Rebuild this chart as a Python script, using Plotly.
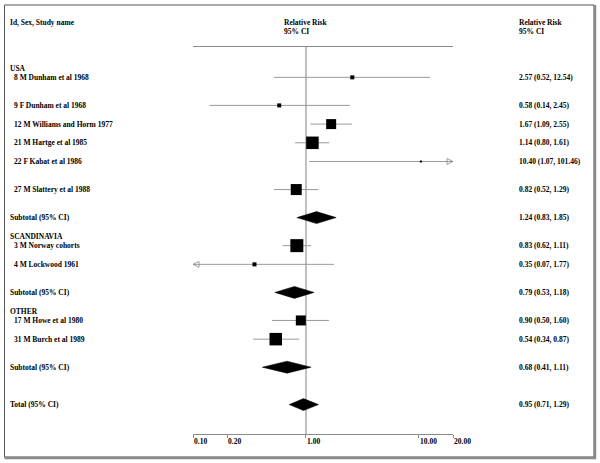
import math
import plotly.graph_objects as go

# ---------------- data ----------------
groups = ["USA", "SCANDINAVIA", "OTHER"]
study_labels = [
    "8 M Dunham et al 1968",
    "9 F Dunham et al 1968",
    "12 M Williams and Horm 1977",
    "21 M Hartge et al 1985",
    "22 F Kabat et al 1986",
    "27 M Slattery et al 1988",
    "3 M Norway cohorts",
    "4 M Lockwood 1961",
    "17 M Howe et al 1980",
    "31 M Burch et al 1989",
]
study_group = ["USA", "USA", "USA", "USA", "USA", "USA",
               "SCANDINAVIA", "SCANDINAVIA", "OTHER", "OTHER"]
rr = [2.57, 0.58, 1.67, 1.14, 10.40, 0.82, 0.83, 0.35, 0.90, 0.54]
lo = [0.52, 0.14, 1.09, 0.80, 1.07, 0.52, 0.62, 0.07, 0.50, 0.34]
hi = [12.54, 2.45, 2.55, 1.61, 101.46, 1.29, 1.11, 1.77, 1.60, 0.87]
weight_px = [4, 4, 10, 12.5, 2, 11, 13, 4, 10, 12.5]

sub_rr = [1.24, 0.79, 0.68]
sub_lo = [0.83, 0.53, 0.41]
sub_hi = [1.85, 1.18, 1.11]

total_rr, total_lo, total_hi = 0.95, 0.71, 1.29

tick_vals = [0.10, 0.20, 1.00, 10.00, 20.00]
tick_text = ["0.10", "0.20", "1.00", "10.00", "20.00"]

# ---------------- layout (row positions in line units) ----------------
group_row = [0, 18, 26]
study_row = [1, 4, 6, 8, 10, 13, 19, 21, 27, 29]
sub_row = [16, 24, 32]
total_row = 36

XMIN, XMAX = 0.1, 20.0
W, H = 600, 463
ROW0_PX, ROW_PX = 68.0, 9.35
TOP_PX, BOT_PX = 47.0, 434.0
X0_PX, X1_PX = 193.0, 453.0


def unit(px):
    return (px - ROW0_PX) / ROW_PX


def py(px):
    return 1 - px / H


FONT = dict(family="Liberation Serif, Times New Roman, serif", size=7.5, color="black")
DH = 0.64  # diamond half height in row units
LINE_GREY = "#9a9a9a"

fig = go.Figure()

# vertical line at 1
fig.add_trace(go.Scatter(x=[1, 1], y=[unit(TOP_PX), unit(BOT_PX)], mode="lines",
                         line=dict(color="#808080", width=1), hoverinfo="skip"))

# CI lines
cx, cy = [], []
for l, h_, r in zip(lo, hi, study_row):
    cx += [l, h_, None]
    cy += [r, r, None]
fig.add_trace(go.Scatter(x=cx, y=cy, mode="lines", line=dict(color=LINE_GREY, width=1),
                         hoverinfo="skip"))

# arrows for truncated CIs
ax_r, ay_r, ax_l, ay_l = [], [], [], []
for l, h_, r in zip(lo, hi, study_row):
    if h_ > XMAX:
        ax_r.append(XMAX)
        ay_r.append(r)
    if l < XMIN:
        ax_l.append(XMIN)
        ay_l.append(r)
fig.add_trace(go.Scatter(x=ax_r, y=ay_r, mode="markers", cliponaxis=False,
                         marker=dict(symbol="arrow-right-open", size=6, opacity=1,
                                     color="#8a8a8a", line=dict(width=0.8, color="#8a8a8a")),
                         hoverinfo="skip"))
fig.add_trace(go.Scatter(x=ax_l, y=ay_l, mode="markers", cliponaxis=False,
                         marker=dict(symbol="arrow-left-open", size=6, opacity=1,
                                     color="#8a8a8a", line=dict(width=0.8, color="#8a8a8a")),
                         hoverinfo="skip"))

# point estimates (squares)
fig.add_trace(go.Scatter(x=rr, y=study_row, mode="markers",
                         marker=dict(symbol="square", size=weight_px, color="black",
                                     opacity=1, line=dict(width=0)),
                         hoverinfo="skip"))

# diamonds
for r_, l_, h_, row in list(zip(sub_rr, sub_lo, sub_hi, sub_row)) + [(total_rr, total_lo, total_hi, total_row)]:
    fig.add_trace(go.Scatter(x=[l_, r_, h_, r_, l_], y=[row, row - DH, row, row + DH, row],
                             mode="lines", fill="toself", fillcolor="black",
                             line=dict(color="black", width=0.5), hoverinfo="skip"))

ann = []


def txt(x, y, s, xref="paper", yref="y", anchor="left"):
    ann.append(dict(x=x, y=y, xref=xref, yref=yref, text="<b>%s</b>" % s, showarrow=False,
                    xanchor=anchor, yanchor="middle", font=FONT))


# headers
txt(8 / W, py(22), "Id, Sex, Study name", yref="paper")
txt(282 / W, py(22), "Relative Risk", yref="paper")
txt(282 / W, py(31.5), "95% CI", yref="paper")
txt(517 / W, py(22), "Relative Risk", yref="paper")
txt(517 / W, py(31.5), "95% CI", yref="paper")

for g, row in zip(groups, group_row):
    txt(8 / W, row, g)
for s, row, r_, l_, h_ in zip(study_labels, study_row, rr, lo, hi):
    txt(12 / W, row, s)
    txt(517 / W, row, "%.2f (%.2f, %.2f)" % (r_, l_, h_))
for row, r_, l_, h_ in zip(sub_row, sub_rr, sub_lo, sub_hi):
    txt(8 / W, row, "Subtotal (95% CI)")
    txt(517 / W, row, "%.2f (%.2f, %.2f)" % (r_, l_, h_))
txt(8 / W, total_row, "Total (95% CI)")
txt(517 / W, total_row, "%.2f (%.2f, %.2f)" % (total_rr, total_lo, total_hi))

# tick labels (left aligned at tick)
for v, t in zip(tick_vals, tick_text):
    ann.append(dict(x=math.log10(v), y=py(441), xref="x", yref="paper", text="<b>%s</b>" % t,
                    showarrow=False, xanchor="left", yanchor="middle", xshift=-1, font=FONT))

shapes = [
    dict(type="rect", xref="paper", yref="paper", x0=4.5 / W, x1=594 / W,
         y0=py(457), y1=py(5), line=dict(color="#555555", width=1)),
    dict(type="line", xref="paper", yref="paper", x0=595 / W, x1=595 / W,
         y0=py(458.5), y1=py(5), line=dict(color="#8a8a8a", width=2.5)),
    dict(type="line", xref="paper", yref="paper", x0=4.5 / W, x1=596 / W,
         y0=py(458), y1=py(458), line=dict(color="#8a8a8a", width=2.5)),
]

fig.update_layout(
    width=W, height=H, margin=dict(l=0, r=0, t=0, b=0),
    paper_bgcolor="white", plot_bgcolor="white", showlegend=False,
    annotations=ann, shapes=shapes,
    xaxis=dict(type="log", range=[math.log10(XMIN), math.log10(XMAX)],
               domain=[X0_PX / W, X1_PX / W], showgrid=False, zeroline=False,
               showline=True, linecolor="#8a8a8a", linewidth=1, mirror=True,
               ticks="outside", ticklen=3, tickcolor="#8a8a8a", tickvals=tick_vals,
               showticklabels=False, fixedrange=True),
    yaxis=dict(range=[unit(BOT_PX), unit(TOP_PX)], domain=[py(BOT_PX), py(TOP_PX)],
               visible=False, fixedrange=True),
)

fig.write_html("out.html", config={"displayModeBar": False},
               post_script="document.body.style.margin='0';document.body.style.padding='0';"
                           "document.body.style.overflow='hidden';")
